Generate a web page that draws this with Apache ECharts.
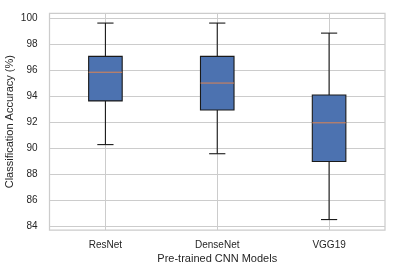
<!DOCTYPE html>
<html>
<head>
<meta charset="utf-8">
<script src="https://cdn.jsdelivr.net/npm/echarts@6/dist/echarts.min.js"></script>
<style>
html,body{margin:0;padding:0;background:#fff;}
#chart{width:397px;height:271px;}
</style>
</head>
<body>
<div id="chart"></div>
<script>
// Data
var categories = ['ResNet', 'DenseNet', 'VGG19'];
var whiskerLow = [90.3, 89.6, 84.55];
var q1Values   = [93.65, 92.95, 89.0];
var medians    = [95.85, 95.02, 91.97];
var q3Values   = [97.07, 97.07, 94.1];
var whiskerHigh= [99.62, 99.62, 98.85];
var yTicks = [84, 86, 88, 90, 92, 94, 96, 98, 100];

var boxData = categories.map(function (c, i) {
  return [i, whiskerLow[i], q1Values[i], medians[i], q3Values[i], whiskerHigh[i]];
});

var textColor = '#262626';
var gridColor = '#cccccc';
var font = 'Liberation Sans, Arial, sans-serif';

var chart = echarts.init(document.getElementById('chart'), null, {renderer: 'canvas'});
chart.setOption({
  animation: false,
  backgroundColor: '#ffffff',
  grid: {
    left: 49.5, right: 12, top: 13.3, bottom: 41,
    containLabel: false,
    outerBoundsMode: 'none',
    show: true, borderColor: gridColor, borderWidth: 1.25, backgroundColor: '#ffffff'
  },
  xAxis: {
    type: 'value',
    min: -0.5, max: 2.5,
    name: 'Pre-trained CNN Models',
    nameLocation: 'middle',
    nameGap: 23,
    nameMoveOverlap: false,
    nameTextStyle: {color: textColor, fontSize: 11, fontFamily: font},
    axisLine: {show: false},
    axisTick: {show: false, customValues: [0, 1, 2]},
    axisLabel: {
      customValues: [0, 1, 2],
      color: textColor, fontSize: 10, fontFamily: font, margin: 10,
      formatter: function (v) { return categories[Math.round(v)]; }
    },
    splitLine: {show: true, lineStyle: {color: gridColor, width: 1}}
  },
  yAxis: {
    type: 'value',
    min: 83.75, max: 100.37,
    name: 'Classification Accuracy (%)',
    nameLocation: 'middle',
    nameGap: 34,
    nameMoveOverlap: false,
    nameRotate: 90,
    nameTextStyle: {color: textColor, fontSize: 11, fontFamily: font},
    axisLine: {show: false},
    axisTick: {show: false, customValues: yTicks},
    axisLabel: {
      customValues: yTicks,
      color: textColor, fontSize: 10, fontFamily: font, margin: 12
    },
    splitLine: {show: true, lineStyle: {color: gridColor, width: 1}}
  },
  series: [{
    type: 'custom',
    data: boxData,
    clip: false,
    renderItem: function (params, api) {
      var x = api.value(0);
      var pLow = api.coord([x, api.value(1)]);
      var pQ1 = api.coord([x, api.value(2)]);
      var pMed = api.coord([x, api.value(3)]);
      var pQ3 = api.coord([x, api.value(4)]);
      var pHigh = api.coord([x, api.value(5)]);
      var boxW = api.size([0.3, 0])[0];
      var capW = api.size([0.145, 0])[0];
      var cx = pMed[0];
      var black = {stroke: '#1a1a1a', lineWidth: 1.1, fill: null};
      return {
        type: 'group',
        children: [
          {type: 'line', shape: {x1: cx, y1: pLow[1], x2: cx, y2: pQ1[1]}, style: black},
          {type: 'line', shape: {x1: cx, y1: pQ3[1], x2: cx, y2: pHigh[1]}, style: black},
          {type: 'line', shape: {x1: cx - capW / 2, y1: pLow[1], x2: cx + capW / 2, y2: pLow[1]}, style: black},
          {type: 'line', shape: {x1: cx - capW / 2, y1: pHigh[1], x2: cx + capW / 2, y2: pHigh[1]}, style: black},
          {type: 'rect', shape: {x: cx - boxW / 2, y: pQ3[1], width: boxW, height: pQ1[1] - pQ3[1]},
           style: {fill: '#4c72b0', stroke: '#1a1a1a', lineWidth: 1.1}},
          {type: 'line', shape: {x1: cx - boxW / 2, y1: pMed[1], x2: cx + boxW / 2, y2: pMed[1]},
           style: {stroke: '#dd8452', lineWidth: 1}}
        ]
      };
    }
  }]
});
</script>
</body>
</html>
